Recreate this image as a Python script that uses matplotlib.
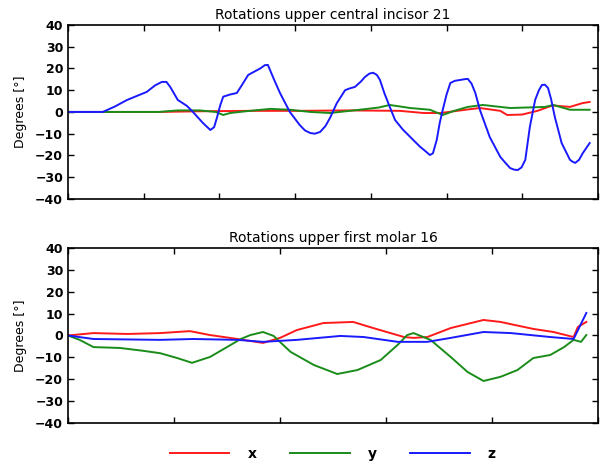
import matplotlib
matplotlib.use("Agg")
import matplotlib.pyplot as plt

# === Upper central incisor 21 (x in frames, values in degrees) ===
inc_t_x = [0, 121, 174, 240, 306, 372, 438, 470, 492, 525, 544, 571, 580, 600, 620, 640, 663, 679, 689]
inc_x = [0, 0, 0.3, 0.5, 0.5, 0.7, 0.5, -0.5, -0.5, 1, 1.8, 0.5, -1.4, -1.2, 0.5, 3, 2.3, 4, 4.6]

inc_t_y = [0, 120, 145, 174, 195, 205, 214, 240, 267, 293, 320, 346, 385, 410, 425, 452, 478, 495,
           510, 528, 548, 584, 630, 641, 663, 689]
inc_y = [0, 0, 0.7, 0.7, 0, -1.4, -0.5, 0.5, 1.4, 1, 0, -0.5, 1, 2, 3.2, 1.8, 1, -1.4,
         0.5, 2.3, 3.2, 1.8, 2.3, 3.2, 1, 1]

inc_t_z = [0, 46, 62, 78, 92, 104, 115, 124, 130, 135, 145, 157, 165, 178, 188, 193, 197, 201, 205,
           214, 223, 230, 238, 246, 254, 260, 264, 272, 280, 293, 306, 313, 320, 326, 333, 340,
           346, 355, 366, 372, 379, 387, 392, 398, 403, 408, 412, 418, 425, 432, 442, 452, 465,
           472, 478, 482, 487, 491, 495, 500, 505, 511, 518, 523, 528, 533, 538, 544, 557, 571,
           578, 584, 589, 594, 599, 604, 610, 617, 622, 626, 630, 634, 638, 643, 652, 663, 667,
           670, 675, 680, 689]
inc_z = [0, 0, 2.5, 5.5, 7.5, 9.2, 12.2, 13.8, 13.8, 11.5, 5.5, 2.8, 0, -5, -8.3, -7, -2.3, 3, 7,
         8, 8.7, 12.5, 17, 18.5, 20, 21.5, 21.6, 15, 8.7, 0, -6, -8.5, -9.7, -10, -9.2, -6.5,
         -2.8, 4, 10, 10.8, 11.5, 14, 16, 17.6, 18, 17, 14.7, 8.5, 2.3, -3.7, -8, -11.5, -16,
         -18, -19.8, -19, -12.9, -5, 1, 8, 13.3, 14.3, 14.7, 15, 15.2, 13, 8.7, 1, -11.5, -20.7,
         -23.5, -25.8, -26.5, -26.7, -25.5, -22, -6.9, 5.5, 10, 12.4, 12.5, 11, 6, -2.3, -14.3, -22,
         -23, -23.4, -22, -18.9, -14.3]

# === Upper first molar 16 ===
mol_t_x = [0, 24, 56, 87, 115, 134, 160, 184, 200, 216, 241, 269, 288, 317, 326, 339, 361,
           392, 408, 439, 458, 477, 481, 489]
mol_x = [0, 1.1, 0.7, 1.1, 2, 0.2, -1.6, -3.4, -1.1, 2.5, 5.7, 6.2, 3.4, -0.7, -1.1, -0.7, 3.4,
         7.1, 6.2, 3, 1.6, -0.7, 3.9, 6.2]

mol_t_y = [0, 11, 24, 49, 71, 87, 103, 117, 134, 150, 163, 172, 184, 194, 210, 232, 254, 273,
           295, 311, 320, 326, 342, 361, 377, 392, 408, 424, 439, 455, 468, 477, 484, 489]
mol_y = [0, -2, -5.3, -5.7, -7, -8.1, -10.3, -12.5, -9.8, -5.3, -1.6, 0.2, 1.6, -0.2, -7.5, -13.5,
         -17.6, -15.8, -11.2, -4.3, 0.2, 1.1, -2, -9.8, -16.7, -20.8, -18.9, -15.8, -10.3, -8.9,
         -5.3, -2, -2.9, 0.2]

mol_t_z = [0, 24, 87, 118, 160, 184, 216, 257, 279, 311, 339, 361, 392, 418, 455, 477, 489]
mol_z = [0, -1.6, -2, -1.6, -2, -2.9, -2, -0.2, -0.7, -2.9, -2.9, -1.1, 1.6, 1.1, -0.7, -1.6, 10.3]

paneles = [
    ("Rotations upper central incisor 21", 700, 100,
     (inc_t_x, inc_x), (inc_t_y, inc_y), (inc_t_z, inc_z)),
    ("Rotations upper first molar 16", 500, 100,
     (mol_t_x, mol_x), (mol_t_y, mol_y), (mol_t_z, mol_z)),
]
posiciones = [[0.1124, 0.573, 0.876, 0.3736], [0.1124, 0.0923, 0.876, 0.3755]]

fig = plt.figure(figsize=(6.05, 4.66), dpi=100)

lineas = []
for pos, (titulo, xmax, paso, sx, sy, sz) in zip(posiciones, paneles):
    ax = fig.add_axes(pos)
    lx, = ax.plot(sx[0], sx[1], color="#ff1a1a", lw=1.4)
    ly, = ax.plot(sy[0], sy[1], color="#1a8c1a", lw=1.4)
    lz, = ax.plot(sz[0], sz[1], color="#1a1aff", lw=1.4)
    lineas = [lx, ly, lz]
    ax.set_xlim(0, xmax)
    ax.set_ylim(-40, 40)
    ax.set_xticks(range(0, xmax + 1, paso))
    ax.set_yticks(range(-40, 41, 10))
    ax.set_xticklabels([])
    ax.tick_params(direction="in", top=True, right=True, length=4, width=1,
                   labelsize=9)
    for lab in ax.get_yticklabels():
        lab.set_fontweight("semibold")
    for sp in ax.spines.values():
        sp.set_linewidth(1.2)
    ax.set_title(titulo, fontsize=10, pad=4)
    ax.set_ylabel("Degrees [°]", fontsize=9, labelpad=6)

fig.legend(lineas, ["x", "y", "z"], loc="center", bbox_to_anchor=(0.55, 0.026),
           ncol=3, frameon=False, handlelength=4.3, handletextpad=1.3,
           columnspacing=2.4, prop={"size": 10, "weight": "bold"})

fig.savefig("out.png", dpi=100)
plt.close(fig)
